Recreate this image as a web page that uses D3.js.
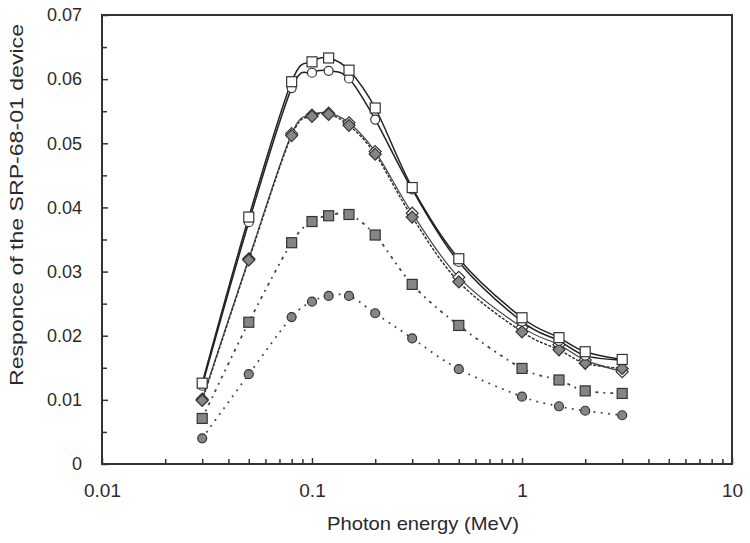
<!DOCTYPE html>
<html>
<head>
<meta charset="utf-8">
<script src="https://cdn.jsdelivr.net/npm/d3@7"></script>
<style>
  html, body { margin: 0; padding: 0; background: #fff; }
  svg { display: block; font-family: Arial, "Liberation Sans", sans-serif; }
</style>
</head>
<body>
<svg id="chart" width="750" height="543"></svg>
<script>
// ---- data ----
const energies = [0.03, 0.05, 0.08, 0.1, 0.12, 0.15, 0.2, 0.3, 0.5, 1, 1.5, 2, 3];
const openSquares  = [0.0126, 0.0385, 0.0596, 0.0627, 0.0633, 0.0614, 0.0555, 0.0431, 0.0320, 0.0228, 0.0197, 0.0175, 0.0163];
const openCircles  = [0.0122, 0.0377, 0.0586, 0.0610, 0.0613, 0.0601, 0.0537, 0.0428, 0.0315, 0.0222, 0.0192, 0.0169, 0.0162];
const openDiamonds = [0.0101, 0.0320, 0.0515, 0.0544, 0.0547, 0.0532, 0.0487, 0.0391, 0.0291, 0.0213, 0.0186, 0.0162, 0.0144];
const grayDiamonds = [0.0099, 0.0318, 0.0512, 0.0542, 0.0545, 0.0528, 0.0483, 0.0385, 0.0284, 0.0206, 0.0178, 0.0157, 0.0149];
const graySquares  = [0.0071, 0.0221, 0.0345, 0.0378, 0.0387, 0.0389, 0.0357, 0.0280, 0.0216, 0.0149, 0.0131, 0.0114, 0.0110];
const grayCircles  = [0.0040, 0.0140, 0.0229, 0.0253, 0.0262, 0.0262, 0.0235, 0.0196, 0.0148, 0.0105, 0.0090, 0.0083, 0.0076];
const xTickValues = [0.01, 0.1, 1, 10];
const xTickLabels = ["0.01", "0.1", "1", "10"];
const yTickValues = [0, 0.01, 0.02, 0.03, 0.04, 0.05, 0.06, 0.07];
const yTickLabels = ["0", "0.01", "0.02", "0.03", "0.04", "0.05", "0.06", "0.07"];
const xTitle = "Photon energy (MeV)";
const yTitle = "Responce of the SRP-68-01 device";

// ---- layout ----
const svg = d3.select("#chart");
const L = 102, R = 732, T = 15, B = 464;
const x = d3.scaleLog().domain([0.01, 10]).range([L, R]);
const y = d3.scaleLinear().domain([0, 0.07]).range([B, T]);
const axisColor = "#333";

// minor ticks
const minorX = [];
[0.01, 0.1, 1].forEach(d => { for (let k = 2; k <= 9; k++) minorX.push(d * k); });
const minorY = d3.range(0.005, 0.07, 0.01);

const g = svg.append("g");

const xAxis = d3.axisBottom(x).tickValues(xTickValues).tickFormat((d, i) => xTickLabels[i]).tickSizeInner(-6).tickSizeOuter(0).tickPadding(20);
const xg = g.append("g").attr("transform", `translate(0,${B})`).call(xAxis);
xg.select(".domain").remove();
xg.selectAll("line").attr("stroke", axisColor).attr("stroke-width", 1.5);
xg.selectAll("text").attr("font-size", 19).attr("fill", "#2a2a2a").attr("dy", "0.71em");

const xMinor = d3.axisBottom(x).tickValues(minorX).tickFormat("").tickSizeInner(-5).tickSizeOuter(0);
const xmg = g.append("g").attr("transform", `translate(0,${B})`).call(xMinor);
xmg.select(".domain").remove();
xmg.selectAll("line").attr("stroke", axisColor).attr("stroke-width", 1.5);

const yAxis = d3.axisLeft(y).tickValues(yTickValues).tickFormat((d, i) => yTickLabels[i]).tickSizeInner(-6).tickSizeOuter(0).tickPadding(20);
const yg = g.append("g").attr("transform", `translate(${L},0)`).call(yAxis);
yg.select(".domain").remove();
yg.selectAll("line").attr("stroke", axisColor).attr("stroke-width", 1.5);
yg.selectAll("text").attr("font-size", 18).attr("fill", "#2a2a2a");

const yMinor = d3.axisLeft(y).tickValues(minorY).tickFormat("").tickSizeInner(-5).tickSizeOuter(0);
const ymg = g.append("g").attr("transform", `translate(${L},0)`).call(yMinor);
ymg.select(".domain").remove();
ymg.selectAll("line").attr("stroke", axisColor).attr("stroke-width", 1.5);

// frame
g.append("rect").attr("x", L).attr("y", T).attr("width", R - L).attr("height", B - T)
  .attr("fill", "none").attr("stroke", axisColor).attr("stroke-width", 2);

// titles
g.append("text").attr("x", (L + R) / 2 + 6).attr("y", 530).attr("text-anchor", "middle")
  .attr("font-size", 19).attr("fill", "#2a2a2a").attr("textLength", 192).attr("lengthAdjust", "spacingAndGlyphs").text(xTitle);
g.append("text").attr("transform", `translate(23,205) rotate(-90)`).attr("text-anchor", "middle")
  .attr("font-size", 19).attr("fill", "#2a2a2a").attr("textLength", 362).attr("lengthAdjust", "spacingAndGlyphs").text(yTitle);

// ---- series ----
const line = d3.line().x(d => x(d[0])).y(d => y(d[1])).curve(d3.curveCatmullRom.alpha(0));
const mk = vals => energies.map((e, i) => [e, vals[i]]);

const series = [
  { vals: grayCircles, dash: "1.8,5.5", width: 1.8, color: "#444", shape: "circle", fill: "#858585", size: 9 },
  { vals: graySquares, dash: "3,5,1.8,5", width: 1.8, color: "#444", shape: "square", fill: "#858585", size: 10 },
  { vals: openDiamonds, dash: null, width: 1.2, color: "#444", shape: "diamond", fill: "#fff", size: 12 },
  { vals: grayDiamonds, dash: "3,1.5", width: 1.5, color: "#333", shape: "diamond", fill: "#858585", size: 12 },
  { vals: openCircles, dash: null, width: 1.5, color: "#222", shape: "circle", fill: "#fff", size: 9 },
  { vals: openSquares, dash: null, width: 1.5, color: "#222", shape: "square", fill: "#fff", size: 10 },
];

series.forEach(s => {
  const p = g.append("path").datum(mk(s.vals)).attr("d", line)
    .attr("fill", "none").attr("stroke", s.color).attr("stroke-width", s.width);
  if (s.dash) p.attr("stroke-dasharray", s.dash);
});

series.forEach(s => {
  const pts = mk(s.vals);
  const grp = g.append("g");
  pts.forEach(d => {
    const cx = x(d[0]), cy = y(d[1]), h = s.size / 2;
    if (s.shape === "circle") {
      grp.append("circle").attr("cx", cx).attr("cy", cy).attr("r", h)
        .attr("fill", s.fill).attr("stroke", "#333").attr("stroke-width", 1.2);
    } else if (s.shape === "square") {
      grp.append("rect").attr("x", cx - h).attr("y", cy - h).attr("width", s.size).attr("height", s.size)
        .attr("fill", s.fill).attr("stroke", "#333").attr("stroke-width", 1.2);
    } else {
      grp.append("path").attr("d", `M${cx},${cy - h}L${cx + h},${cy}L${cx},${cy + h}L${cx - h},${cy}Z`)
        .attr("fill", s.fill).attr("stroke", "#333").attr("stroke-width", 1.2);
    }
  });
});
</script>
</body>
</html>
